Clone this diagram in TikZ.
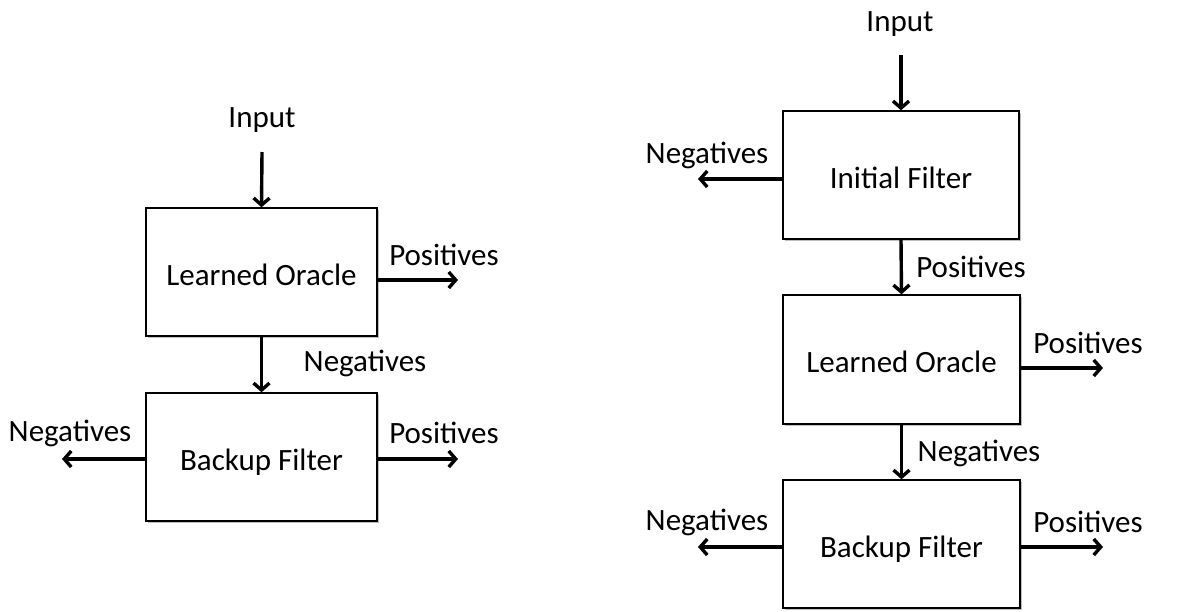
\documentclass[tikz,border=0pt]{standalone}
\usepackage{fontspec}
\setmainfont{Carlito}
\usetikzlibrary{arrows.meta,shadows}
\begin{document}
\begin{tikzpicture}[x=1pt,y=-1pt,
  box/.style={draw=black,line width=1.4pt,fill=white,minimum width=231pt,minimum height=128pt,inner sep=0pt,
    text height=26pt,text depth=0pt,
    font=\fontsize{31}{36}\selectfont,
    drop shadow={shadow xshift=1.5pt,shadow yshift=-1.5pt,fill=black,opacity=0.25}},
  lbl/.style={inner sep=0pt,font=\fontsize{31}{36}\selectfont},
  arr/.style={line width=3.4pt,-{Straight Barb[length=7pt,width=16pt,line width=3.4pt]}}]
\useasboundingbox (0,0) rectangle (1178,611);
% ---------- left diagram ----------
\node[lbl] (in1) at (262,120) {Input};
\node[box] (lo1) at (261.5,272) {Learned Oracle};
\node[box] (bf1) at (261.5,457) {Backup Filter};
\coordinate (in1s) at (262,152);
\coordinate (lo1p) at (458,280);
\coordinate (bf1n) at (62,459);
\coordinate (bf1p) at (458,459);
\draw[arr] (in1s) -- (lo1.north);
\draw[arr] (lo1.east |- lo1p) -- (lo1p);
\draw[arr] (lo1.south) -- (bf1.north);
\draw[arr] (bf1.west |- bf1n) -- (bf1n);
\draw[arr] (bf1.east |- bf1p) -- (bf1p);
\node[lbl] (lo1pl) at (444,255) {Positives};
\node[lbl] (lo1nl) at (365,363) {Negatives};
\node[lbl] (bf1nl) at (70,433) {Negatives};
\node[lbl] (bf1pl) at (444,433) {Positives};
% ---------- right diagram ----------
\node[lbl] (in2) at (900,24) {Input};
\node[box,minimum width=236pt] (if2) at (901,175) {Initial Filter};
\node[box,minimum width=237pt,minimum height=129pt] (lo2) at (901.5,359.5) {Learned Oracle};
\node[box,minimum width=237pt] (bf2) at (901.5,544) {Backup Filter};
\coordinate (in2s) at (901,55);
\coordinate (if2n) at (698,179);
\coordinate (lo2p) at (1103,368);
\coordinate (bf2n) at (698,547);
\coordinate (bf2p) at (1103,547);
\draw[arr] (in2s) -- (if2.north);
\draw[arr] (if2.west |- if2n) -- (if2n);
\draw[arr] (if2.south) -- (lo2.north);
\draw[arr] (lo2.east |- lo2p) -- (lo2p);
\draw[arr] (lo2.south) -- (bf2.north);
\draw[arr] (bf2.west |- bf2n) -- (bf2n);
\draw[arr] (bf2.east |- bf2p) -- (bf2p);
\node[lbl] (if2nl) at (707,155) {Negatives};
\node[lbl] (if2pl) at (971,267) {Positives};
\node[lbl] (lo2pl) at (1088,343) {Positives};
\node[lbl] (lo2nl) at (979,453) {Negatives};
\node[lbl] (bf2nl) at (707,522) {Negatives};
\node[lbl] (bf2pl) at (1088,522) {Positives};
\end{tikzpicture}
\end{document}
